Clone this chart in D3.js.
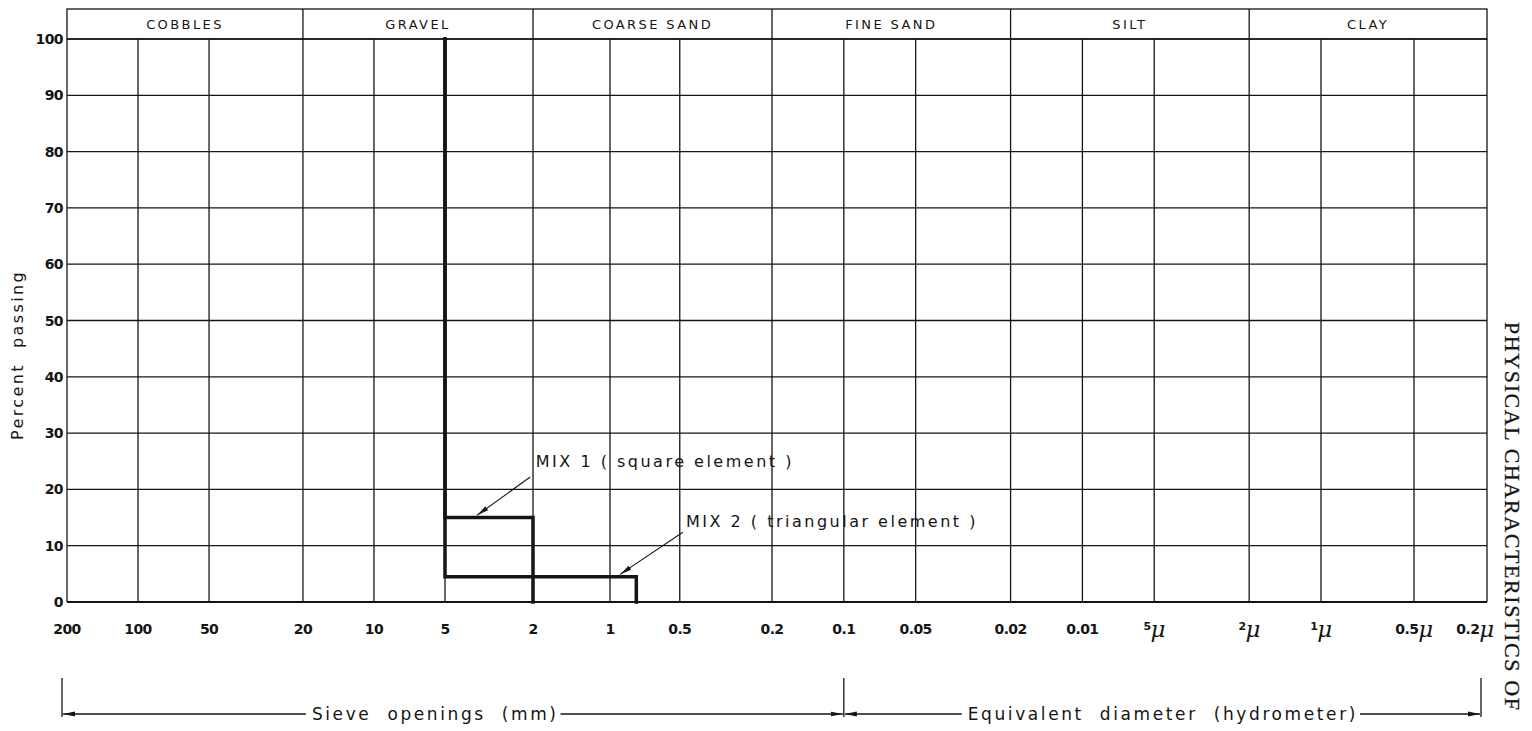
<!DOCTYPE html>
<html><head><meta charset="utf-8">
<script src="https://cdn.jsdelivr.net/npm/d3@7"></script>
<style>body{margin:0;background:#fff;} svg{display:block;background:#fff;}</style>
</head><body>
<svg id="chart" width="1532" height="731"></svg>
<script>
// ---- data ----
const sizeTicks = [200, 100, 50, 20, 10, 5, 2, 1, 0.5, 0.2, 0.1, 0.05, 0.02, 0.01, 0.005, 0.002, 0.001, 0.0005, 0.0002];
const sizeNums  = ["200","100","50","20","10","5","2","1","0.5","0.2","0.1","0.05","0.02","0.01","5","2","1","0.5","0.2"];
const sizeMicro = [false,false,false,false,false,false,false,false,false,false,false,false,false,false,true,true,true,true,true];
const percentTicks = [0, 10, 20, 30, 40, 50, 60, 70, 80, 90, 100];
const classNames  = ["COBBLES", "GRAVEL", "COARSE SAND", "FINE SAND", "SILT", "CLAY"];
const classBounds = [200, 20, 2, 0.2, 0.02, 0.002, 0.0002];
const mix1Size = [5, 5, 2, 2];
const mix1Pct  = [100, 15, 15, 0];
const mix2Size = [5, 5, 0.77, 0.77];
const mix2Pct  = [100, 4.5, 4.5, 0];
const mixLabels = ["MIX 1 ( square element )", "MIX 2 ( triangular element )"];
const mixLabelAt  = [[1.95, 24.0], [0.47, 13.3]];
const mixArrowFrom = [[2.06, 22.2], [0.485, 12.4]];
const mixArrowTo   = [[3.58, 15.4], [0.905, 4.9]];
const rangeLabels = ["Sieve  openings  (mm)", "Equivalent  diameter  (hydrometer)"];
const rangeFrom = [200, 0.1];
const rangeTo   = [0.1, 0.0002];
const rangeLabelAt = [5.5, 0.0046];
const yTitle = "Percent  passing";
const sideTitle = "PHYSICAL CHARACTERISTICS OF";

// ---- scales ----
const x = d3.scaleLog()
  .domain([200, 5, 2, 1, 0.2, 0.001, 0.0005, 0.0002])
  .range([67, 445, 533, 610, 772, 1321, 1414, 1487]);
const y = d3.scaleLinear().domain([0, 100]).range([602, 39]);
const headTop = 9;
const ink = "#151515";
const sans = "'DejaVu Sans', sans-serif";

const svg = d3.select("#chart");

svg.append("defs").append("marker")
  .attr("id", "ah").attr("viewBox", "0 0 12 6").attr("refX", 12).attr("refY", 3)
  .attr("markerWidth", 12).attr("markerHeight", 6).attr("markerUnits", "userSpaceOnUse")
  .attr("orient", "auto-start-reverse")
  .append("path").attr("d", "M0,0.6 L12,3 L0,5.4 Z").attr("fill", ink);

// ---- grid ----
const grid = svg.append("g").attr("stroke", ink).attr("stroke-width", 1.3);
grid.selectAll("line.h").data(percentTicks).join("line").attr("class", "h")
  .attr("x1", x(200)).attr("x2", x(0.0002))
  .attr("y1", d => y(d)).attr("y2", d => y(d))
  .attr("stroke-width", d => d === 0 ? 1.8 : 1.3);
grid.selectAll("line.v").data(sizeTicks).join("line").attr("class", "v")
  .attr("x1", d => x(d)).attr("x2", d => x(d))
  .attr("y1", y(100)).attr("y2", y(0));

// ---- header band ----
const head = svg.append("g");
head.append("rect").attr("x", x(200)).attr("y", headTop)
  .attr("width", x(0.0002) - x(200)).attr("height", y(100) - headTop)
  .attr("fill", "none").attr("stroke", ink).attr("stroke-width", 1.3);
head.selectAll("line").data(classBounds.slice(1, -1)).join("line")
  .attr("x1", d => x(d)).attr("x2", d => x(d)).attr("y1", headTop).attr("y2", y(100))
  .attr("stroke", ink).attr("stroke-width", 1.3);
head.selectAll("text").data(classNames).join("text")
  .attr("x", (d, i) => (x(classBounds[i]) + x(classBounds[i + 1])) / 2)
  .attr("y", (headTop + y(100)) / 2).attr("dy", "0.36em")
  .attr("text-anchor", "middle").attr("font-family", sans).attr("font-size", 13)
  .attr("letter-spacing", 2.4).attr("fill", ink).text(d => d);

// ---- y axis labels ----
svg.append("g").selectAll("text").data(percentTicks).join("text")
  .attr("x", x(200) - 4).attr("y", d => y(d)).attr("dy", "0.36em")
  .attr("text-anchor", "end").attr("font-family", sans).attr("font-weight", "bold")
  .attr("font-size", 14).attr("fill", ink).attr("letter-spacing", -0.6).text(d => d);

svg.append("text").attr("transform", `translate(23,355) rotate(-90)`)
  .attr("text-anchor", "middle").attr("font-family", sans).attr("font-size", 16)
  .attr("letter-spacing", 2.4).attr("fill", ink).attr("xml:space", "preserve").text(yTitle);

// ---- x tick labels ----
const xl = svg.append("g").selectAll("text").data(sizeTicks).join("text")
  .attr("x", (d, i) => x(d) - (i === sizeTicks.length - 1 ? 12 : 0))
  .attr("y", y(0) + 32)
  .attr("text-anchor", "middle").attr("font-family", sans).attr("font-weight", "bold")
  .attr("font-size", 14).attr("fill", ink).attr("letter-spacing", -0.6);
xl.each(function (d, i) {
  const t = d3.select(this);
  if (!sizeMicro[i]) { t.text(sizeNums[i]); return; }
  const small = sizeNums[i].length === 1;
  t.append("tspan").attr("font-size", small ? 11 : 14).attr("dy", small ? -4 : 0).text(sizeNums[i]);
  t.append("tspan").attr("font-size", 23).attr("font-style", "italic").attr("font-weight", "normal")
    .attr("font-family", "'DejaVu Serif', serif")
    .attr("dy", small ? 7 : 3).text("μ");
});

// ---- mixes ----
const line = d3.line().x(d => x(d[0])).y(d => y(d[1]));
const mixG = svg.append("g").attr("fill", "none").attr("stroke", ink)
  .attr("stroke-width", 3.5).attr("stroke-linejoin", "miter").attr("stroke-linecap", "square");
mixG.append("path").attr("d", line(mix1Size.map((s, i) => [s, mix1Pct[i]])));
mixG.append("path").attr("d", line(mix2Size.map((s, i) => [s, mix2Pct[i]])));

// ---- annotations ----
const ann = svg.append("g");
ann.selectAll("line").data(mixLabels).join("line")
  .attr("x1", (d, i) => x(mixArrowFrom[i][0])).attr("y1", (d, i) => y(mixArrowFrom[i][1]))
  .attr("x2", (d, i) => x(mixArrowTo[i][0])).attr("y2", (d, i) => y(mixArrowTo[i][1]))
  .attr("stroke", ink).attr("stroke-width", 1.1).attr("marker-end", "url(#ah)");
ann.selectAll("text").data(mixLabels).join("text")
  .attr("x", (d, i) => x(mixLabelAt[i][0])).attr("y", (d, i) => y(mixLabelAt[i][1]))
  .attr("font-family", sans).attr("font-size", 16).attr("letter-spacing", 2.5)
  .attr("fill", ink).attr("xml:space", "preserve").text(d => d);

// ---- bottom dimension lines ----
const dimY = 714;
const dim = svg.append("g");
const endX = d => x(d) - (d === 0.0002 ? 6 : d === 200 ? 5 : 0);
const ends = Array.from(new Set(rangeFrom.concat(rangeTo)));
dim.selectAll("line.end").data(ends).join("line").attr("class", "end")
  .attr("x1", endX).attr("x2", endX)
  .attr("y1", dimY - 36).attr("y2", dimY + 3).attr("stroke", ink).attr("stroke-width", 1.3);
rangeLabels.forEach((lab, i) => {
  const x0 = endX(rangeFrom[i]);
  const x1 = endX(rangeTo[i]);
  const t = dim.append("text").attr("x", x(rangeLabelAt[i])).attr("y", dimY).attr("dy", "0.35em")
    .attr("text-anchor", "middle").attr("font-family", sans).attr("font-size", 17)
    .attr("letter-spacing", 2.6).attr("fill", ink).attr("xml:space", "preserve").text(lab);
  const bb = t.node().getBBox();
  dim.append("line").attr("x1", bb.x - 6).attr("x2", x0 + 1).attr("y1", dimY).attr("y2", dimY)
    .attr("stroke", ink).attr("stroke-width", 1.3).attr("marker-end", "url(#ah)");
  dim.append("line").attr("x1", bb.x + bb.width + 2).attr("x2", x1 - 1).attr("y1", dimY).attr("y2", dimY)
    .attr("stroke", ink).attr("stroke-width", 1.3).attr("marker-end", "url(#ah)");
});

// ---- side title ----
svg.append("text").attr("transform", "translate(1505,322) rotate(90)")
  .attr("font-family", "'Liberation Serif', serif").attr("font-size", 22)
  .attr("letter-spacing", 1.6).attr("fill", ink).attr("stroke", ink).attr("stroke-width", 0.3)
  .text(sideTitle);
</script>
</body></html>
